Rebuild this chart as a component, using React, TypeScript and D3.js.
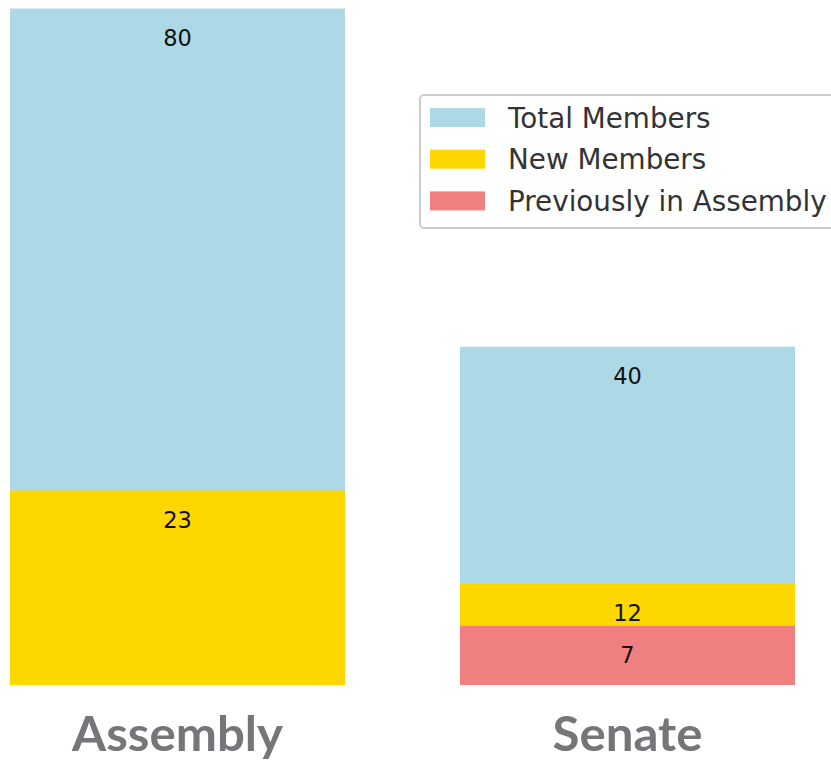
import React from "react";
import * as d3 from "d3";

const categories = ["Assembly", "Senate"];
const seriesNames = ["Total Members", "New Members", "Previously in Assembly"];
const totalMembers = [80, 40];
const newMembers = [23, 12];
const previouslyInAssembly = [0, 7];
const seriesColors = ["#ADD8E6", "#FFD700", "#F08080"];

const W = 831;
const H = 761;

export default function App() {
  const x = d3
    .scaleBand<string>()
    .domain(categories)
    .range([10, 795])
    .paddingInner(115 / 450)
    .paddingOuter(0);
  const y = d3.scaleLinear().domain([0, 80]).range([685, 8.5]);

  const series = [totalMembers, newMembers, previouslyInAssembly];
  const labelLengths: Record<string, number> = { Assembly: 211, Senate: 150 };

  return (
    <svg
      width={W}
      height={H}
      style={{ position: "absolute", left: 0, top: 0, background: "#fff" }}
      fontFamily="'DejaVu Sans', sans-serif"
    >
      {series.map((vals, si) =>
        categories.map((c, ci) => {
          const v = vals[ci];
          if (!v) return null;
          return (
            <g key={`${si}-${ci}`}>
              <rect
                x={x(c)!}
                y={y(v)}
                width={x.bandwidth()}
                height={y(0) - y(v)}
                fill={seriesColors[si]}
              />
              <text
                x={x(c)! + x.bandwidth() / 2}
                y={y(v) + 37.5}
                textAnchor="middle"
                fontSize={22.5}
                fill="#111"
              >
                {v}
              </text>
            </g>
          );
        })
      )}
      {categories.map((c) => (
        <text
          key={c}
          x={x(c)! + x.bandwidth() / 2}
          y={751}
          textAnchor="middle"
          fontFamily="Lato, 'Open Sans', sans-serif"
          fontWeight={700}
          fontSize={47}
          fill="#76767a"
          textLength={labelLengths[c]}
          lengthAdjust="spacingAndGlyphs"
        >
          {c}
        </text>
      ))}
      <g>
        <rect
          x={420}
          y={95}
          width={440}
          height={133}
          rx={4}
          fill="#fff"
          fillOpacity={0.8}
          stroke="#cccccc"
          strokeWidth={2}
        />
        {seriesNames.map((s, i) => (
          <g key={s} transform={`translate(0, ${i * 41.7})`}>
            <rect x={430} y={108} width={55} height={19} fill={seriesColors[i]} />
            <text x={508} y={127.5} fontSize={27.8} fill="#333">
              {s}
            </text>
          </g>
        ))}
      </g>
    </svg>
  );
}
